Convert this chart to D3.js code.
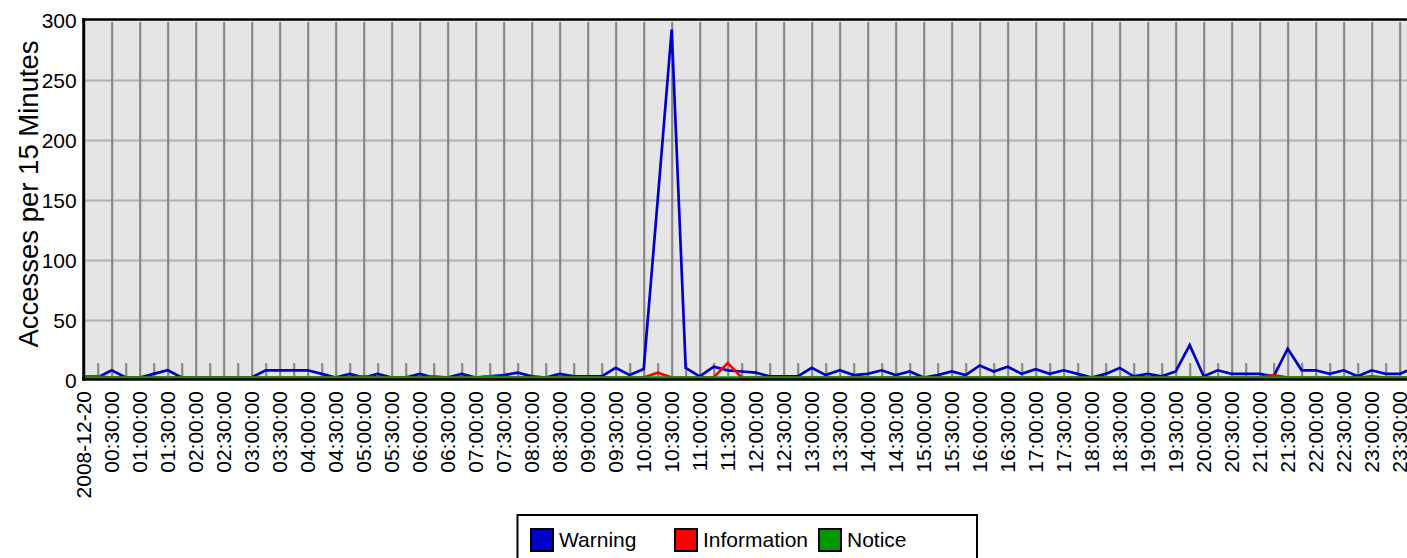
<!DOCTYPE html>
<html><head><meta charset="utf-8">
<script src="https://cdn.jsdelivr.net/npm/d3@7"></script>
<style>
html,body{margin:0;padding:0;background:#fff;overflow:hidden}
svg{display:block;font-family:"Liberation Sans",Arial,Helvetica,sans-serif}
</style></head><body>
<svg id="chart" width="1407" height="558"></svg>
<script>
// ---- data ----
const startTime = "2008-12-20T00:00:00Z";
const stepMinutes = 15;
const warning = [0,0,6,0,0,3,6,0,0,0,0,0,0,6,6,6,6,3,0,3,0,3,0,0,3,0,0,3,0,1,2,4,1,0,3,1,1,1,8,2,7,148,290,8,1,9,6,5,4,1,1,1,8,2,6,2,3,6,2,5,0,2,5,2,10,5,9,3,7,3,6,3,0,3,8,1,3,1,5,27,1,6,3,3,3,1,24,6,6,3,6,1,6,3,3,8];
const information = [1,1,0,0,0,0,0,0,0,0,0,0,0,0,0,0,0,0,0,0,1,0,0,0,0,1,0,0,0,0,0,0,0,0,0,0,0,0,0,0,0,4,0,0,0,0,12,0,0,0,0,0,0,0,0,0,0,0,0,0,0,0,0,0,0,0,0,0,0,0,0,0,0,0,0,0,0,0,0,0,0,0,0,0,0,2,0,0,0,0,0,0,1,0,0,0];
const notice = [0,0,0,0,0,0,0,0,0,0,0,0,0,0,0,0,0,0,0,0,0,0,0,0,0,0,0,0,0,1,0,0,0,0,0,0,0,0,0,0,0,0,0,0,0,0,0,0,0,0,0,0,0,0,0,0,0,0,0,0,0,0,0,0,0,0,0,0,0,0,0,0,0,0,0,0,0,0,0,0,0,0,0,0,0,0,0,0,0,0,0,0,0,0,0,0];
const seriesNames = ["Warning", "Information", "Notice"];
const seriesColors = ["#0000cc", "#ff0000", "#009900"];
const yTicks = [0, 50, 100, 150, 200, 250, 300];
const yTitle = "Accesses per 15 Minutes";
const dateLabel = "2008-12-20";

// ---- layout ----
const svg = d3.select("#chart");
const L = 83.7, R = 1427.7, T = 20, B = 380;
const t0 = new Date(startTime);
const t1 = d3.utcHour.offset(t0, 24);
const x = d3.scaleUtc().domain([t0, t1]).range([L, R]);
const y = d3.scaleLinear().domain([0, 300]).range([B, T]);
const timeAt = i => d3.utcMinute.offset(t0, i * stepMinutes);

const majorTicks = d3.utcMinute.every(30).range(t0, t1);
const minorTicks = d3.utcMinute.every(15).range(t0, t1).filter(d => d.getUTCMinutes() % 30 !== 0);

// background
svg.append("rect").attr("x", L).attr("y", T - 0.5).attr("width", R - L).attr("height", B - T + 0.5).attr("fill", "#e5e5e5");

// horizontal grid
const hg = svg.append("g").attr("transform", `translate(${L + 1.5},0)`)
  .call(d3.axisLeft(y).tickValues(yTicks.filter(v => v > 0 && v < 300)).tickSize(-(R - L)).tickFormat(""));
hg.select(".domain").remove();
hg.selectAll("line").attr("stroke", "#b0b0b0").attr("stroke-width", 2);

// vertical grid (major)
const vg = svg.append("g").attr("transform", `translate(0,${B - 2})`)
  .call(d3.axisBottom(x).tickValues(majorTicks.slice(1)).tickSize(-(B - 2 - (T + 2))).tickFormat(""));
vg.select(".domain").remove();
vg.selectAll("line").attr("stroke", "#888").attr("stroke-width", 2.2);

// minor ticks
const mg = svg.append("g").attr("transform", `translate(0,${B - 2})`)
  .call(d3.axisBottom(x).tickValues(minorTicks).tickSize(-15).tickFormat(""));
mg.select(".domain").remove();
mg.selectAll("line").attr("stroke", "#888").attr("stroke-width", 2.2);

// series lines
const allSeries = [warning, information, notice];
const lineGen = d3.line().x((d, i) => x(timeAt(i))).y(d => y(d));
const lg = svg.append("g").attr("transform", "translate(0,-2.5)");
allSeries.forEach((s, k) => {
  lg.append("path").datum(s).attr("d", lineGen).attr("fill", "none")
    .attr("stroke", seriesColors[k]).attr("stroke-width", 2.7).attr("stroke-linejoin", "miter");
});

// frame
svg.append("line").attr("x1", L - 1.5).attr("x2", R).attr("y1", T - 0.5).attr("y2", T - 0.5).attr("stroke", "#000").attr("stroke-width", 2.5);
svg.append("line").attr("x1", L).attr("x2", L).attr("y1", T - 1.7).attr("y2", B + 0.7).attr("stroke", "#000").attr("stroke-width", 3);
svg.append("line").attr("x1", L - 1.5).attr("x2", R).attr("y1", B - 0.6).attr("y2", B - 0.6).attr("stroke", "#000").attr("stroke-width", 2.5);

// y labels
const ya = svg.append("g").attr("transform", `translate(${L - 7},0)`)
  .call(d3.axisLeft(y).tickValues(yTicks).tickSize(0).tickPadding(0));
ya.select(".domain").remove();
ya.selectAll("text").attr("font-size", 21).attr("fill", "#000").attr("font-family", "Liberation Sans, Arial, sans-serif").attr("dy", "0.35em");

// x labels
const fmt = d3.utcFormat("%H:%M:%S");
svg.append("g").selectAll("text").data(majorTicks).join("text")
  .attr("transform", d => `translate(${x(d)},${B + 11}) rotate(-90)`)
  .attr("text-anchor", "end").attr("dy", "0.35em").attr("font-size", 21).attr("fill", "#000")
  .text(d => (d.getUTCHours() === 0 && d.getUTCMinutes() === 0) ? dateLabel : fmt(d));

// y title
svg.append("text").attr("transform", "translate(28,194) rotate(-90)")
  .attr("text-anchor", "middle").attr("dy", "0.35em").attr("font-size", 27.5).attr("fill", "#000").text(yTitle);

// legend
const leg = svg.append("g");
leg.append("rect").attr("x", 517.5).attr("y", 515).attr("width", 459.5).attr("height", 80)
  .attr("fill", "#fff").attr("stroke", "#000").attr("stroke-width", 2);
const legX = [531, 675, 819];
seriesNames.forEach((n, k) => {
  leg.append("rect").attr("x", legX[k]).attr("y", 529).attr("width", 22).attr("height", 22)
    .attr("fill", seriesColors[k]).attr("stroke", "#000").attr("stroke-width", 2);
  leg.append("text").attr("x", legX[k] + 28).attr("y", 540).attr("dy", "0.35em")
    .attr("font-size", 21).attr("fill", "#000").text(n);
});
</script>
</body></html>
